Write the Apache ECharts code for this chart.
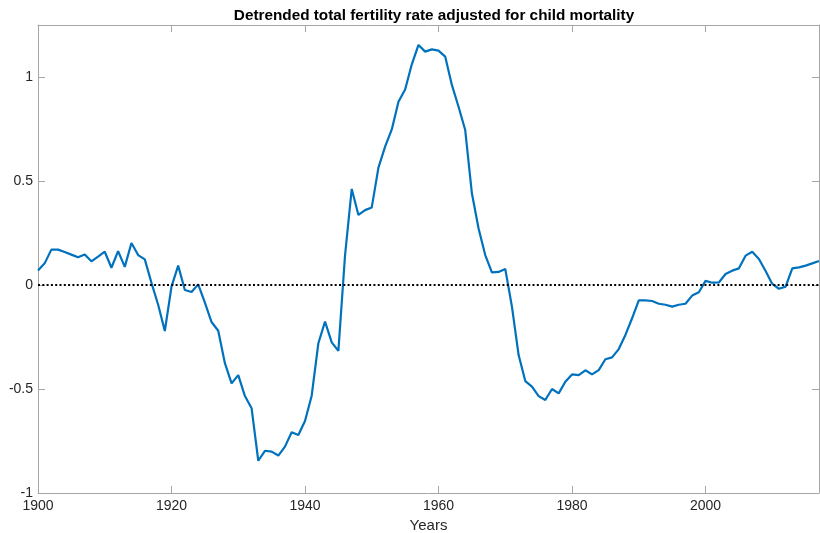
<!DOCTYPE html>
<html>
<head>
<meta charset="utf-8">
<title>Detrended total fertility rate</title>
<script src="https://cdn.jsdelivr.net/npm/echarts@6/dist/echarts.min.js"></script>
<style>
  html, body { margin: 0; padding: 0; background: #fff; }
  #chart { width: 820px; height: 533px; }
</style>
</head>
<body>
<div id="chart"></div>
<script>
// Years 1900–2017, one value per year
const firstYear = 1900;
const lastYear = 2017;

// Detrended TFR (adjusted for child mortality), 1900–2017
const tfrDetrended = [
  0.070, 0.104, 0.170, 0.170, 0.159, 0.146, 0.133, 0.147, 0.114, 0.136,   // 1900s
  0.160, 0.083, 0.163, 0.087, 0.202, 0.144, 0.123, 0.010, -0.095, -0.221, // 1910s
  -0.008, 0.093, -0.024, -0.034, 0.003, -0.085, -0.178, -0.220, -0.376, -0.473, // 1920s
  -0.433, -0.534, -0.593, -0.845, -0.797, -0.801, -0.820, -0.777, -0.708, -0.721, // 1930s
  -0.654, -0.532, -0.280, -0.176, -0.276, -0.317, 0.144, 0.462, 0.337, 0.360,    // 1940s
  0.373, 0.564, 0.665, 0.748, 0.881, 0.940, 1.061, 1.154, 1.122, 1.133,          // 1950s
  1.127, 1.098, 0.962, 0.857, 0.745, 0.441, 0.272, 0.144, 0.061, 0.063,          // 1960s
  0.077, -0.104, -0.337, -0.462, -0.489, -0.534, -0.553, -0.500, -0.521, -0.465, // 1970s
  -0.430, -0.433, -0.410, -0.430, -0.409, -0.357, -0.348, -0.308, -0.240, -0.160, // 1980s
  -0.074, -0.074, -0.077, -0.090, -0.095, -0.104, -0.095, -0.090, -0.051, -0.035, // 1990s
  0.020, 0.011, 0.012, 0.053, 0.069, 0.080, 0.141, 0.160, 0.125, 0.067,          // 2000s
  0.005, -0.018, -0.008, 0.080, 0.085, 0.093, 0.104, 0.115                       // 2010s
];

const xTicks = [1900, 1920, 1940, 1960, 1980, 2000];
const yTicks = [-1, -0.5, 0, 0.5, 1];
const yMin = -1;
const yMax = 1.25;
const referenceLevel = 0;

const titleText = 'Detrended total fertility rate adjusted for child mortality';
const xName = 'Years';

const points = tfrDetrended.map((v, i) => [firstYear + i, v]);

const FONT = '"Liberation Sans", Arial, Helvetica, sans-serif';
const AXIS_COLOR = '#a6a6a6';
const LABEL_COLOR = '#262626';
const TICK_LEN = 7;

// One side of the boxed frame; only bottom and left carry labels
function boxAxis(position, isX, showLabels) {
  return {
    type: 'value',
    position: position,
    min: isX ? firstYear : yMin,
    max: isX ? lastYear : yMax,
    axisLine: { show: true, onZero: false, lineStyle: { color: AXIS_COLOR, width: 1 } },
    axisTick: {
      show: true, inside: true, length: TICK_LEN,
      customValues: isX ? xTicks : yTicks,
      lineStyle: { color: AXIS_COLOR, width: 1 }
    },
    axisLabel: {
      show: showLabels,
      customValues: isX ? xTicks : yTicks,
      formatter: (v) => String(v),
      color: LABEL_COLOR,
      fontFamily: FONT,
      fontSize: 14,
      margin: isX ? 6 : 5
    },
    splitLine: { show: false }
  };
}

const xBottom = boxAxis('bottom', true, true);
xBottom.name = xName;
xBottom.nameLocation = 'middle';
xBottom.nameGap = 22;
xBottom.nameTextStyle = { color: LABEL_COLOR, fontFamily: FONT, fontSize: 15 };

const chart = echarts.init(document.getElementById('chart'), null, { renderer: 'canvas' });

chart.setOption({
  animation: false,
  backgroundColor: '#ffffff',
  title: {
    text: titleText,
    left: 429,
    textAlign: 'center',
    top: 3,
    textStyle: { fontFamily: FONT, fontSize: 15.3, fontWeight: 'bold', color: '#000' }
  },
  grid: {
    left: 38, right: 1, top: 25, bottom: 40,
    containLabel: false,
    outerBoundsMode: 'none'
  },
  xAxis: [xBottom, boxAxis('top', true, false)],
  yAxis: [boxAxis('left', false, true), boxAxis('right', false, false)],
  series: [
    {
      type: 'line',
      xAxisIndex: 0,
      yAxisIndex: 0,
      data: points,
      showSymbol: false,
      symbol: 'none',
      lineStyle: { color: '#0072BD', width: 2.2 },
      z: 2
    },
    {
      type: 'line',
      xAxisIndex: 0,
      yAxisIndex: 0,
      data: [],
      z: 3,
      markLine: {
        silent: true,
        symbol: ['none', 'none'],
        label: { show: false },
        lineStyle: { color: '#000', width: 2, type: [2, 2.3] },
        data: [{ yAxis: referenceLevel }]
      }
    }
  ]
});
</script>
</body>
</html>
